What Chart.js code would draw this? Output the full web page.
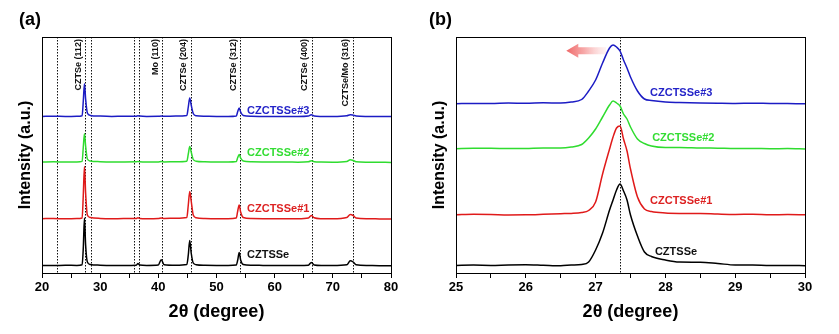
<!DOCTYPE html>
<html>
<head>
<meta charset="utf-8">
<script src="https://cdn.jsdelivr.net/npm/chart.js@4.4.1/dist/chart.umd.min.js"></script>
<style>
  body { margin: 0; background: #fff; }
  #wrap { position: relative; width: 839px; height: 334px; }
  canvas { position: absolute; top: 0; }
  #chartA { left: 0; }
  #chartB { left: 420px; }
</style>
</head>
<body>
<div id="wrap">
  <canvas id="chartA" width="420" height="334"></canvas>
  <canvas id="chartB" width="419" height="334"></canvas>
</div>
<script>
// Full-range scan, 2θ = 20..80
const thetaA = [20, 22, 24, 26, 26.9, 27.1, 27.3, 27.5, 27.8, 28.3, 30, 32, 34, 36.2, 36.5, 36.8, 38,
    40, 40.5, 41, 43, 44.9, 45.15, 45.4, 45.65, 46, 46.5, 48, 50, 52, 53.4, 53.65, 53.9, 54.15, 54.6,
    56, 58, 60, 62, 64, 65.8, 66.3, 66.8, 68, 70, 72.4, 73, 73.5, 74, 76, 78, 80];
const cztsseA = [7.6, 7.4, 7.8, 7.5, 8.2, 25, 55, 28, 11, 8.5, 7.8, 7.5, 7.6, 7.8, 9.5, 7.9, 7.6,
    8, 13.3, 8.3, 7.8, 8.5, 18, 32.6, 20, 10, 8.3, 7.7, 7.6, 7.6, 8, 13, 20.6, 13, 8.5,
    7.7, 7.6, 7.5, 7.6, 7.5, 7.8, 10.6, 8, 7.5, 7.5, 8.2, 12.3, 11, 8.2, 7.5, 7.3, 7.3];
const czctsse1A = [54.3, 54.5, 54.2, 54.4, 55, 78, 106.6, 80, 58, 55.5, 54.6, 54.3, 54.4, 54.5, 55.3, 54.6, 54.3,
    54.5, 55, 54.5, 54.8, 55.5, 68, 81.6, 72, 58, 55.2, 54.5, 54.3, 54.3, 55, 62, 68, 61, 55.5,
    54.5, 54.3, 54.2, 54.3, 54.2, 55, 57.6, 55.2, 54.3, 54.2, 55.5, 58.6, 57.5, 55, 54.2, 54.1, 54];
const czctsse2A = [111, 111.2, 111, 111.1, 111.6, 126, 139.3, 127, 114, 112, 111.3, 111, 111.1, 111.2, 111.6, 111.2, 111,
    111.1, 111.4, 111.1, 111.3, 111.8, 119, 126.6, 121, 113.5, 111.8, 111.2, 111, 111, 111.5, 115.5, 118.6, 115, 112,
    111.2, 111, 110.9, 111, 110.8, 111.2, 112.3, 111.3, 110.9, 110.8, 111.5, 113.3, 112.5, 111.3, 110.8, 110.7, 110.6];
const czctsse3A = [156.6, 156.8, 156.5, 156.7, 157.3, 172, 189.3, 174, 160, 157.6, 156.9, 156.6, 156.7, 156.8, 157.2, 156.9, 156.6,
    156.7, 157, 156.7, 156.9, 157.5, 166, 175, 168, 159.5, 157.3, 156.8, 156.6, 156.5, 157, 161.5, 165, 161, 157.5,
    156.7, 156.6, 156.5, 156.6, 156.5, 157, 158.3, 157.1, 156.6, 156.5, 157.2, 158.3, 157.8, 157, 156.5, 156.4, 156.4];

// Zoom on the (112) reflection, 2θ = 25..30
const thetaB = [25, 25.25, 25.5, 25.75, 26, 26.25, 26.5, 26.65, 26.8, 26.9, 27, 27.1, 27.2, 27.25, 27.3, 27.35,
    27.4, 27.45, 27.5, 27.6, 27.7, 27.8, 28, 28.2, 28.5, 28.75, 29, 29.25, 29.5, 29.75, 30];
const cztsseB = [7.6, 7.9, 7.6, 8.1, 8.3, 7.8, 7.3, 7.9, 8.5, 11, 23, 40, 63, 73, 83, 89,
    82, 73, 58, 37, 21, 16.5, 13, 11, 10.8, 9.5, 8, 7.9, 7.5, 7.6, 7.3];
const czctsse1B = [58.3, 58.8, 58.6, 58.1, 58.2, 58.7, 59.3, 59.6, 60.5, 62.5, 71, 99, 124, 136, 145, 147,
    134, 122, 104, 76, 64, 61.5, 60, 59.6, 59.5, 58.9, 58.5, 58.8, 58.2, 58.4, 58.3];
const czctsse2B = [124.3, 124.7, 124.8, 124.4, 124.5, 125, 125, 126, 128.5, 135, 144, 156, 168, 172, 170, 167,
    159, 154, 146, 134, 129.5, 127, 125.5, 125.6, 125, 124.8, 124.5, 124.6, 124.3, 124.4, 124];
const czctsse3B = [169.3, 169.6, 169.5, 169.9, 169.8, 170.2, 170, 171, 173.5, 182, 193, 210, 225, 228, 226, 222,
    213, 205, 196, 182, 174, 172.5, 171, 170.5, 170, 169.7, 169.5, 169.8, 169.5, 169.4, 169.3];

const sampleNames = ['CZTSSe', 'CZCTSSe#1', 'CZCTSSe#2', 'CZCTSSe#3'];
const refLinesA = [22.5, 27.45, 28.5, 35.85, 36.6, 40.65, 45.6, 54.05, 66.4, 73.45];
const tagPosA = [27.45, 40.65, 45.6, 54.05, 66.4, 73.45];
const tagTextA = ['CZTSe (112)', 'Mo (110)', 'CZTSe (204)', 'CZTSe (312)', 'CZTSe (400)', 'CZTSe/Mo (316)'];
const refLinesB = [27.35];

const lineColors = ['#000000', '#e01a1a', '#2fdc2f', '#1c1cc4'];
const textColors = ['#111111', '#dd2222', '#33dd33', '#2424c8'];
const FONT = "'Liberation Sans', Arial, sans-serif";

function series(xs, ys, i) {
    return {
        label: sampleNames[i],
        data: xs.map((x, k) => ({ x, y: ys[k] })),
        borderColor: lineColors[i],
        borderWidth: 1.5,
        pointRadius: 0,
        cubicInterpolationMode: 'monotone',
        fill: false
    };
}

// Frame, dotted reference lines, peak tags, sample labels, panel letter
function decor(cfg) {
    return {
        id: 'decor' + cfg.letter,
        beforeDatasetsDraw(chart) {
            const { ctx, chartArea: a, scales } = chart;
            ctx.save();
            ctx.strokeStyle = '#111';
            ctx.lineWidth = 1;
            ctx.setLineDash([1.5, 1.5]);
            cfg.lines.forEach(v => {
                const x = Math.round(scales.x.getPixelForValue(v)) + 0.5;
                ctx.beginPath();
                ctx.moveTo(x, a.top);
                ctx.lineTo(x, a.bottom);
                ctx.stroke();
            });
            ctx.restore();
        },
        afterDraw(chart) {
            const { ctx, chartArea: a, scales } = chart;
            ctx.save();
            ctx.strokeStyle = '#000';
            ctx.lineWidth = 1;
            ctx.strokeRect(a.left + 0.5, a.top + 0.5, a.right - a.left, a.bottom - a.top);

            // rotated peak assignments
            ctx.fillStyle = '#111';
            ctx.font = `bold 9px ${FONT}`;
            ctx.textAlign = 'right';
            ctx.textBaseline = 'middle';
            (cfg.tagPos || []).forEach((v, i) => {
                ctx.save();
                ctx.translate(scales.x.getPixelForValue(v) - 7, a.top + 2);
                ctx.rotate(-Math.PI / 2);
                ctx.fillText(cfg.tagText[i], 0, 0);
                ctx.restore();
            });

            // sample names
            ctx.font = `bold 11px ${FONT}`;
            ctx.textAlign = 'left';
            sampleNames.forEach((name, i) => {
                ctx.fillStyle = textColors[i];
                ctx.fillText(name, scales.x.getPixelForValue(cfg.nameX[i]), scales.y.getPixelForValue(cfg.nameY[i]));
            });

            // shift arrow
            if (cfg.arrow) {
                const [x0v, x1v, yv] = cfg.arrow;
                const x0 = scales.x.getPixelForValue(x0v);
                const x1 = scales.x.getPixelForValue(x1v);
                const y = scales.y.getPixelForValue(yv);
                const g = ctx.createLinearGradient(x0, 0, x1, 0);
                g.addColorStop(0, 'rgba(238, 95, 95, 0.95)');
                g.addColorStop(0.45, 'rgba(244, 140, 140, 0.75)');
                g.addColorStop(1, 'rgba(252, 215, 215, 0.3)');
                ctx.fillStyle = g;
                ctx.beginPath();
                ctx.moveTo(x0, y);
                ctx.lineTo(x0 + 12, y - 7);
                ctx.lineTo(x0 + 12, y - 3.5);
                ctx.lineTo(x1, y - 3.5);
                ctx.lineTo(x1, y + 3.5);
                ctx.lineTo(x0 + 12, y + 3.5);
                ctx.lineTo(x0 + 12, y + 7);
                ctx.closePath();
                ctx.fill();
            }

            ctx.fillStyle = '#000';
            ctx.font = `bold 18px ${FONT}`;
            ctx.textAlign = 'left';
            ctx.textBaseline = 'middle';
            ctx.fillText(cfg.letter, cfg.letterX, 20);
            ctx.restore();
        }
    };
}

function makeChart(id, xs, ys, xr, step, yTitlePad, yWidth, rightPad, plugin) {
    return new Chart(document.getElementById(id), {
        type: 'line',
        data: { datasets: ys.map((y, i) => series(xs, y, i)) },
        plugins: [plugin],
        options: {
            responsive: false,
            animation: false,
            devicePixelRatio: 1,
            layout: { padding: { top: 37, right: rightPad, left: 0, bottom: 0 } },
            plugins: { legend: { display: false }, tooltip: { enabled: false } },
            scales: {
                x: {
                    type: 'linear',
                    min: xr[0],
                    max: xr[1],
                    afterFit: s => { s.height = 61; },
                    grid: { display: true, drawOnChartArea: false, drawTicks: true, tickLength: 5, color: '#000' },
                    border: { display: true, color: '#000', width: 1 },
                    ticks: {
                        stepSize: step,
                        autoSkip: false,
                        maxRotation: 0,
                        padding: 2,
                        color: '#000',
                        font: { family: FONT, size: 13, weight: 'bold' },
                        callback: v => (Math.abs(v - Math.round(v / (step * 2)) * step * 2) < 1e-6 ? v : '')
                    },
                    title: {
                        display: true,
                        text: '2θ (degree)',
                        color: '#000',
                        font: { family: FONT, size: 18, weight: 'bold' },
                        padding: { top: 0, bottom: 11 }
                    }
                },
                y: {
                    min: 0,
                    max: 236,
                    afterFit: s => { s.width = yWidth; },
                    grid: { display: false },
                    border: { display: true, color: '#000', width: 1 },
                    ticks: { display: false },
                    title: {
                        display: true,
                        text: 'Intensity (a.u.)',
                        color: '#000',
                        font: { family: FONT, size: 16, weight: 'bold' },
                        padding: { top: yTitlePad, bottom: 0 }
                    }
                }
            }
        }
    });
}

makeChart('chartA', thetaA, [cztsseA, czctsse1A, czctsse2A, czctsse3A], [20, 80], 5, 15.5, 42, 29,
    decor({
        letter: '(a)', letterX: 19,
        lines: refLinesA, tagPos: tagPosA, tagText: tagTextA,
        nameX: [55.25, 55.25, 55.25, 55.25],
        nameY: [17.6, 64.3, 120.3, 162.3]
    }));

makeChart('chartB', thetaB, [cztsseB, czctsse1B, czctsse2B, czctsse3B], [25, 30], 0.5, 9.5, 36, 34,
    decor({
        letter: '(b)', letterX: 9,
        lines: refLinesB,
        nameX: [27.85, 27.78, 27.81, 27.78],
        nameY: [21.3, 72.3, 135.3, 180.3],
        arrow: [26.58, 27.15, 222.3]
    }));
</script>
</body>
</html>
